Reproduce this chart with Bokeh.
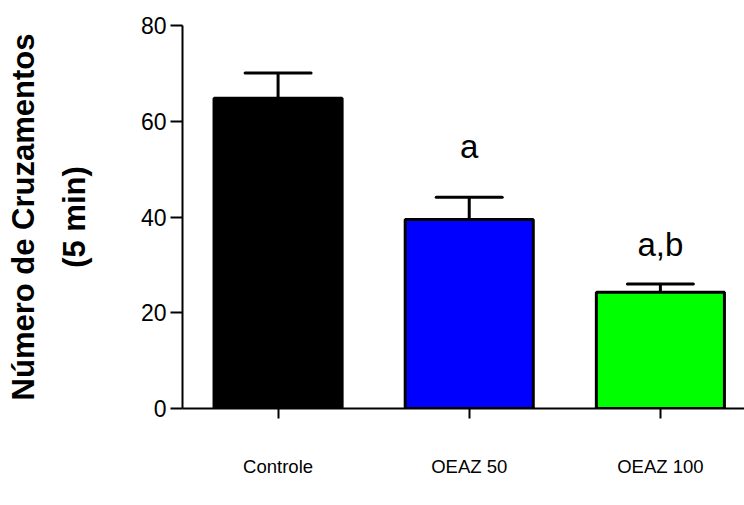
from bokeh.plotting import figure
from bokeh.models import LinearAxis, FixedTicker, Range1d, ColumnDataSource
from bokeh.core.properties import value
from bokeh.embed import file_html
from bokeh.resources import INLINE

# ---- data ----
groups = ["Controle", "OEAZ 50", "OEAZ 100"]
means = [64.8, 39.5, 24.3]
sems = [5.3, 4.6, 1.7]
colors = ["#000000", "#0000FF", "#00FF00"]
sig_labels = ["", "a", "a,b"]
sig_label_y = [0, 54.8, 34.2]
y_ticks = [0, 20, 40, 60, 80]

xpos = [i + 0.5 for i in range(len(groups))]
FONT = "Liberation Sans"

p = figure(width=744, height=505, output_backend="svg", toolbar_location=None,
           x_range=Range1d(0, 2.94), y_range=Range1d(0, 80),
           min_border_left=182, min_border_right=0, min_border_top=25,
           min_border_bottom=97)
p.outline_line_color = None
p.xgrid.grid_line_color = None
p.ygrid.grid_line_color = None
p.background_fill_color = "white"
p.border_fill_color = "white"

src = ColumnDataSource(dict(x=xpos, top=means, color=colors,
                            up=[m + s for m, s in zip(means, sems)]))
p.vbar(x="x", top="top", bottom=0, width=0.67, fill_color="color",
       line_color="black", line_width=3, source=src)
# error bars (upper only)
p.segment(x0="x", y0="top", x1="x", y1="up", line_color="black",
          line_width=3, source=src)
cap = 0.345
p.segment(x0=[x - cap / 2 for x in xpos], y0=src.data["up"],
          x1=[x + cap / 2 for x in xpos], y1=src.data["up"],
          line_color="black", line_width=3, line_cap="round")

# significance letters
lx = [x for x, t in zip(xpos, sig_labels) if t]
ly = [y for y, t in zip(sig_label_y, sig_labels) if t]
lt = [t for t in sig_labels if t]
p.text(x=lx, y=ly, text=lt, text_align="center", text_baseline="alphabetic",
       text_font=value(FONT), text_font_size="33px", text_color="black")

# x axis
xa = p.xaxis[0]
xa.ticker = FixedTicker(ticks=xpos)
xa.major_label_overrides = {x: g for x, g in zip(xpos, groups)}
xa.minor_tick_line_color = None
xa.major_tick_in = 0
xa.major_tick_out = 10
xa.major_tick_line_width = 2
xa.axis_line_width = 2
xa.major_label_standoff = 37
xa.major_label_text_font = FONT
xa.major_label_text_font_size = "18.5px"
xa.major_label_text_color = "black"

# y axis
ya = p.yaxis[0]
ya.ticker = FixedTicker(ticks=y_ticks)
ya.minor_tick_line_color = None
ya.major_tick_in = 0
ya.major_tick_out = 12
ya.major_tick_line_width = 2
ya.axis_line_width = 2
ya.major_label_standoff = 4
ya.major_label_text_font = FONT
ya.major_label_text_font_size = "23px"
ya.major_label_text_color = "black"
ya.axis_label = "(5 min)"
ya.axis_label_text_font = FONT
ya.axis_label_text_font_style = "bold"
ya.axis_label_text_font_size = "31px"
ya.axis_label_text_color = "black"
ya.axis_label_standoff = 46

outer = LinearAxis(ticker=FixedTicker(ticks=[]), axis_line_color=None,
                   major_tick_line_color=None, minor_tick_line_color=None,
                   major_tick_out=0, major_label_standoff=0,
                   axis_label="Número de Cruzamentos",
                   axis_label_text_font=FONT,
                   axis_label_text_font_style="bold",
                   axis_label_text_font_size="31px",
                   axis_label_text_color="black",
                   axis_label_standoff=13)
p.add_layout(outer, "left")

open("out.html", "w").write(file_html(p, INLINE))
